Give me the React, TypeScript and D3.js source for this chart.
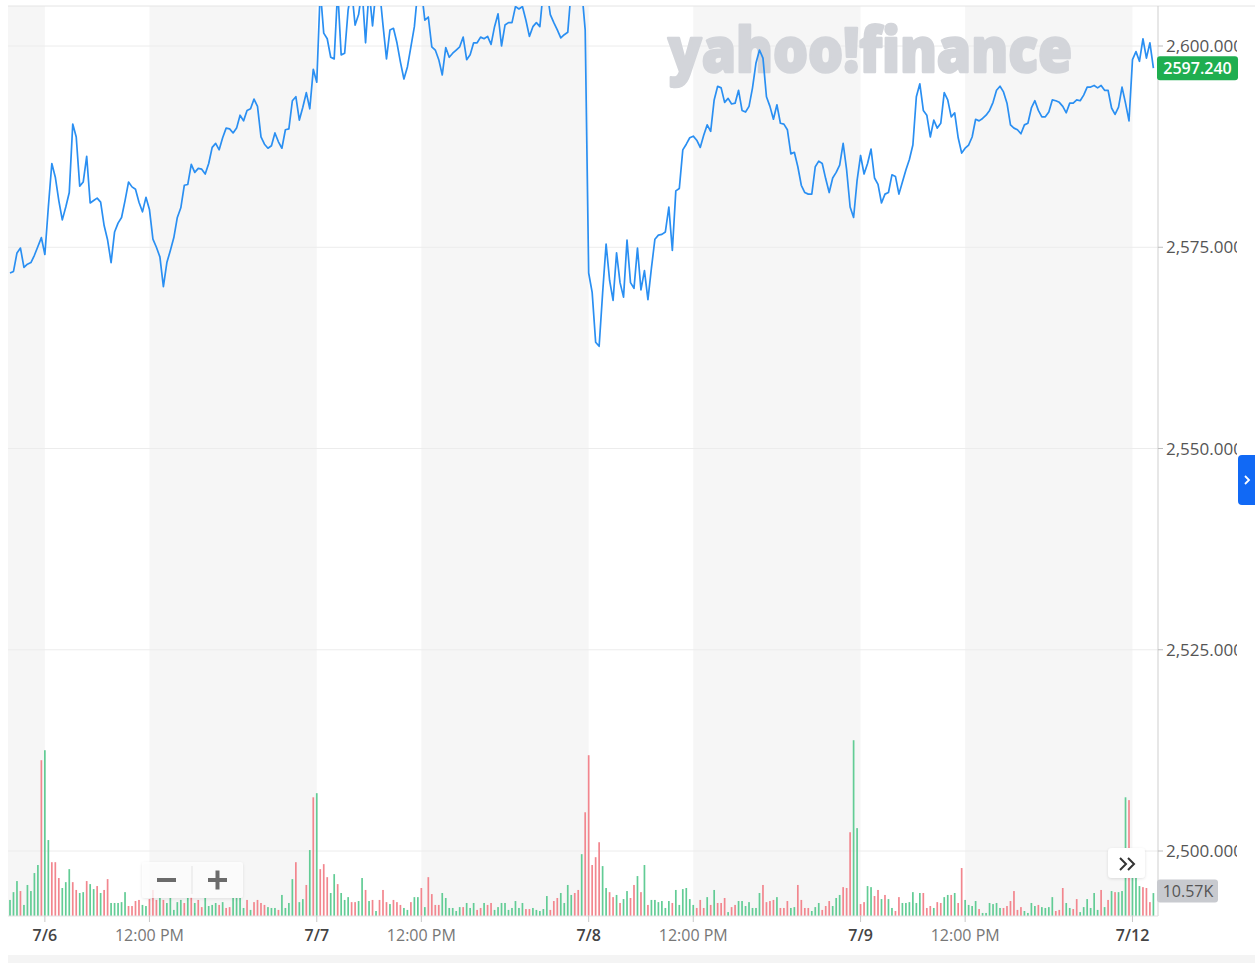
import React, { useEffect, useRef } from 'react';
import * as d3 from 'd3';

// 5-minute closes, 7/2 afternoon through 7/12 open
const PRICE: number[] = [
  2571.8, 2572.0, 2574.3, 2574.9, 2572.5, 2572.9, 2573.1, 2574.0, 2575.1, 2576.2,
  2574.1, 2580.0, 2585.4, 2583.7, 2580.8, 2578.4, 2580.0, 2581.8, 2590.3, 2588.7,
  2582.6, 2583.1, 2586.3, 2580.5, 2580.8, 2581.1, 2580.6, 2577.7, 2575.9, 2573.1,
  2576.9, 2578.0, 2578.7, 2580.8, 2583.1, 2582.5, 2582.2, 2580.6, 2579.4, 2581.2,
  2579.7, 2576.0, 2575.0, 2573.8, 2570.1, 2573.1, 2574.6, 2576.2, 2578.7, 2579.9,
  2582.7, 2582.8, 2585.3, 2584.3, 2584.8, 2584.7, 2584.1, 2585.4, 2587.4, 2587.9,
  2587.1, 2588.6, 2589.8, 2589.7, 2589.2, 2589.8, 2591.4, 2590.7, 2592.0, 2592.2,
  2593.4, 2592.5, 2588.7, 2587.8, 2587.3, 2587.6, 2589.2, 2588.1, 2587.3, 2589.6,
  2589.7, 2593.2, 2593.7, 2590.8, 2592.4, 2594.2, 2592.2, 2597.1, 2595.5, 2607.0,
  2601.6, 2600.9, 2598.6, 2598.4, 2607.0, 2598.9, 2599.1, 2604.5, 2607.0, 2602.6,
  2603.9, 2607.0, 2600.4, 2607.0, 2602.5, 2607.0, 2607.0, 2602.6, 2598.4, 2602.0,
  2602.2, 2600.4, 2598.0, 2595.9, 2597.4, 2599.9, 2602.4, 2607.0, 2607.0, 2603.2,
  2603.6, 2599.9, 2599.5, 2598.3, 2596.4, 2599.8, 2598.6, 2599.1, 2599.5, 2599.9,
  2601.1, 2598.3, 2598.9, 2600.4, 2600.4, 2601.1, 2600.9, 2601.2, 2600.2, 2602.4,
  2604.0, 2600.0, 2602.6, 2602.9, 2602.9, 2604.9, 2604.6, 2604.9, 2603.2, 2601.2,
  2602.4, 2602.9, 2602.4, 2607.0, 2607.0, 2603.9, 2602.9, 2602.0, 2601.0, 2601.4,
  2601.7, 2607.0, 2607.0, 2607.0, 2607.0, 2602.0, 2571.8, 2569.4, 2563.2, 2562.7,
  2569.3, 2575.4, 2570.9, 2568.4, 2574.3, 2570.6, 2568.8, 2575.9, 2570.6, 2569.9,
  2574.9, 2569.7, 2572.1, 2568.5, 2572.4, 2576.0, 2576.5, 2576.6, 2576.9, 2580.0,
  2574.6, 2582.0, 2582.3, 2587.1, 2587.8, 2588.6, 2588.8, 2588.3, 2587.4, 2588.9,
  2590.2, 2589.4, 2593.3, 2595.0, 2594.8, 2593.0, 2593.5, 2592.8, 2592.9, 2594.5,
  2592.0, 2591.8, 2592.5, 2594.8, 2597.9, 2599.5, 2598.5, 2593.7, 2592.5, 2590.9,
  2592.7, 2590.4, 2590.3, 2589.6, 2586.6, 2586.8, 2585.0, 2582.7, 2581.8, 2581.6,
  2581.6, 2585.0, 2585.7, 2585.4, 2583.5, 2581.8, 2583.6, 2584.3, 2585.2, 2587.9,
  2584.6, 2580.0, 2578.7, 2583.3, 2586.4, 2584.1, 2585.4, 2587.2, 2583.6, 2582.8,
  2580.5, 2581.6, 2581.8, 2584.0, 2583.8, 2581.6, 2583.1, 2584.6, 2585.9, 2587.7,
  2593.7, 2595.3, 2592.0, 2591.4, 2588.7, 2590.8, 2589.8, 2590.4, 2594.2, 2593.3,
  2591.2, 2591.7, 2588.6, 2586.7, 2587.3, 2587.7, 2588.7, 2590.9, 2590.7, 2591.0,
  2591.4, 2592.0, 2593.0, 2594.5, 2595.0, 2594.3, 2592.9, 2590.2, 2589.8, 2589.6,
  2589.1, 2590.2, 2590.4, 2592.3, 2593.2, 2592.0, 2591.2, 2591.2, 2591.8, 2593.3,
  2593.2, 2593.0, 2592.5, 2591.7, 2592.9, 2592.9, 2593.3, 2593.2, 2593.9, 2594.9,
  2594.9, 2595.1, 2594.8, 2595.1, 2594.5, 2594.5, 2592.3, 2591.5, 2592.4, 2594.9,
  2592.9, 2590.7, 2598.3, 2599.3, 2598.1, 2600.9, 2598.5, 2600.4, 2597.24,
];

// volume per bar, thousands
const VOLUME: number[] = [
  7.4, 11.0, 16.1, 11.5, 5.1, 14.3, 11.5, 19.8, 23.5, 71.8,
  76.4, 35.0, 24.8, 24.8, 17.5, 12.9, 15.6, 21.6, 15.6, 12.0,
  10.6, 11.0, 16.1, 14.7, 12.4, 13.8, 10.6, 12.0, 17.0, 6.0,
  6.0, 6.0, 6.4, 11.0, 4.6, 4.6, 6.9, 7.4, 5.1, 4.6,
  7.8, 12.0, 7.4, 8.3, 7.4, 6.0, 8.3, 2.8, 6.4, 7.4,
  6.0, 8.3, 8.7, 6.0, 7.4, 4.1, 8.3, 4.6, 5.1, 6.0,
  5.1, 6.4, 3.7, 4.1, 8.3, 8.3, 8.3, 3.7, 7.4, 2.8,
  6.4, 7.4, 6.0, 5.1, 4.1, 3.7, 3.7, 2.8, 9.7, 3.7,
  6.0, 17.0, 24.8, 6.4, 7.8, 14.3, 30.4, 54.7, 56.6, 21.6,
  23.9, 17.9, 10.6, 19.3, 14.7, 10.6, 7.4, 8.7, 6.4, 6.4,
  6.9, 17.5, 12.0, 6.9, 7.4, 2.3, 7.4, 12.0, 6.4, 5.5,
  7.4, 6.4, 5.1, 3.7, 2.8, 6.4, 8.7, 8.7, 12.9, 4.1,
  17.9, 10.1, 5.1, 5.1, 10.6, 8.3, 3.7, 3.7, 2.3, 4.1,
  4.1, 6.0, 3.7, 6.0, 2.8, 3.7, 6.0, 5.1, 6.0, 2.8,
  4.1, 6.0, 6.0, 2.8, 3.7, 6.9, 3.7, 6.0, 3.2, 3.2,
  3.7, 2.8, 2.3, 3.2, 9.2, 2.8, 6.9, 8.3, 10.6, 6.0,
  14.3, 9.7, 10.6, 12.0, 28.5, 47.8, 74.1, 23.5, 27.1, 34.0,
  23.0, 12.9, 11.0, 8.7, 9.7, 6.0, 7.8, 11.5, 8.3, 14.3,
  18.4, 11.0, 23.5, 5.1, 7.4, 7.4, 6.4, 6.9, 3.7, 6.9,
  6.0, 12.0, 5.1, 12.4, 12.9, 7.8, 5.1, 3.7, 7.4, 3.7,
  8.7, 5.1, 12.0, 6.0, 6.0, 8.3, 1.8, 4.1, 5.1, 6.9,
  6.9, 4.6, 6.4, 3.7, 3.7, 10.6, 14.3, 6.4, 6.9, 7.4,
  8.7, 3.7, 3.7, 6.9, 3.7, 4.1, 14.3, 7.4, 3.7, 3.7,
  2.3, 4.1, 6.0, 2.8, 4.6, 6.9, 4.6, 8.3, 9.7, 13.3,
  12.9, 38.6, 81.0, 40.5, 5.5, 6.4, 13.8, 13.3, 9.2, 12.0,
  7.8, 9.7, 7.8, 3.7, 2.3, 8.7, 6.0, 6.0, 6.4, 11.0,
  6.0, 10.6, 10.6, 3.7, 4.6, 3.7, 6.4, 6.0, 8.7, 9.7,
  9.7, 10.6, 6.0, 22.1, 7.4, 5.1, 4.6, 6.9, 3.2, 1.4,
  1.4, 6.0, 5.5, 6.0, 3.7, 3.7, 4.6, 6.9, 11.5, 2.8,
  4.1, 2.3, 1.4, 6.0, 4.6, 5.1, 4.1, 3.7, 4.1, 8.7,
  2.3, 2.8, 12.9, 6.0, 3.7, 3.2, 7.8, 1.8, 4.1, 7.8,
  3.7, 10.6, 2.8, 12.0, 4.1, 7.4, 11.5, 11.0, 11.0, 11.5,
  54.7, 53.4, 28.5, 20.7, 13.8, 13.3, 12.9, 6.4, 10.57,
];

// u = up bar (green), d = down bar (red)
const VOL_DIR = (
  'uuuduuuuud uuddduuudd uuduududdu uuuudddduu ddduduuuuu dududduuuu dudduuuudu dddduuuduu ' +
  'uuduududud dduuduuudd uudududddu ddduuduudu dddduuuuuu duuudduddu uuuuuuuudd uuuuuddduu ' +
  'uudduddddd uudduduudd ududuuuuuu duuuuuuddd ududdduddu uuuuuudddd uddduudddd uuuddduuud ' +
  'dduudduudd uduudduuuu uudddudduu dudduuuudu uuuuuddddd duuuuduuuu ddduudduuuu uudududuuu duuudddud'
).replace(/ /g, '');

const DAY_TICKS = [
  { i: 10, label: '7/6' },
  { i: 88, label: '7/7' },
  { i: 166, label: '7/8' },
  { i: 244, label: '7/9' },
  { i: 322, label: '7/12' },
];
const NOON_TICKS = [40, 118, 196, 274];
const NOON_LABEL = '12:00 PM';
const Y_TICKS = [2600, 2575, 2550, 2525, 2500];
const LAST_PRICE = 2597.24;
const LAST_VOLUME = 10.57;

const W = 1255;
const H = 963;
const LEFT = 8;
const RIGHT = 1158;
const TOP = 6;
const BOTTOM = 916;
const FONT = '"Open Sans", "Noto Sans", sans-serif';

const App: React.FC = () => {
  const svgRef = useRef<SVGSVGElement>(null);

  useEffect(() => {
    if (!svgRef.current) return;
    const svg = d3.select(svgRef.current);
    svg.selectAll('*').remove();

    const x = d3.scaleLinear().domain([0, PRICE.length - 1]).range([10, 1153.4]);
    const y = d3.scaleLinear().domain([2500, 2600]).range([851, 46]);
    const yVol = d3.scaleLinear().domain([0, 100]).range([BOTTOM, BOTTOM - 217]);

    const defs = svg.append('defs');
    defs.append('clipPath').attr('id', 'plot-clip')
      .append('rect').attr('x', LEFT).attr('y', TOP).attr('width', RIGHT - LEFT).attr('height', BOTTOM - TOP);
    defs.append('clipPath').attr('id', 'ylab-clip')
      .append('rect').attr('x', RIGHT).attr('y', 0).attr('width', 1237 - RIGHT).attr('height', H);
    const shadow = defs.append('filter').attr('id', 'btn-shadow')
      .attr('x', '-30%').attr('y', '-30%').attr('width', '160%').attr('height', '160%');
    shadow.append('feDropShadow').attr('dx', 0).attr('dy', 1).attr('stdDeviation', 1.5)
      .attr('flood-color', '#000').attr('flood-opacity', 0.12);

    // shaded off-morning bands: plot start -> 7/6, then each noon -> next day
    const bands: [number, number][] = [[LEFT, x(DAY_TICKS[0].i)]];
    NOON_TICKS.forEach((n, k) => bands.push([x(n), x(DAY_TICKS[k + 1].i)]));
    svg.append('g').selectAll('rect').data(bands).enter().append('rect')
      .attr('x', d => d[0]).attr('y', TOP)
      .attr('width', d => d[1] - d[0]).attr('height', BOTTOM - TOP)
      .attr('fill', '#f6f6f6');

    // bottom strip
    svg.append('rect').attr('x', LEFT).attr('y', 955).attr('width', W - LEFT).attr('height', H - 955)
      .attr('fill', '#f4f4f4');

    // grid
    svg.append('g').selectAll('line').data(Y_TICKS).enter().append('line')
      .attr('x1', LEFT).attr('x2', RIGHT)
      .attr('y1', d => y(d)).attr('y2', d => y(d))
      .attr('stroke', '#ececec').attr('stroke-width', 1);
    svg.append('line').attr('x1', LEFT).attr('x2', W).attr('y1', TOP).attr('y2', TOP)
      .attr('stroke', '#e4e4e4');

    // watermark
    svg.append('text').text('yahoo!finance')
      .attr('x', 668).attr('y', 72)
      .attr('textLength', 404).attr('lengthAdjust', 'spacingAndGlyphs')
      .attr('font-family', FONT).attr('font-size', 62).attr('font-weight', 800)
      .attr('fill', '#d3d5da').attr('stroke', '#d3d5da').attr('stroke-width', 2.5)
      .attr('stroke-linejoin', 'round');

    // volume
    const plot = svg.append('g').attr('clip-path', 'url(#plot-clip)');
    plot.append('g').selectAll('rect').data(VOLUME).enter().append('rect')
      .attr('x', (d, i) => x(i) - 0.85)
      .attr('width', 1.7)
      .attr('y', d => yVol(d))
      .attr('height', d => BOTTOM - yVol(d))
      .attr('fill', (d, i) => (VOL_DIR[i] === 'u' ? '#62cc95' : '#f2868e'));

    // price line
    const line = d3.line<number>().x((d, i) => x(i)).y(d => y(d));
    plot.append('path').datum(PRICE)
      .attr('d', line)
      .attr('fill', 'none')
      .attr('stroke', '#2a8ff2')
      .attr('stroke-width', 1.7)
      .attr('stroke-linejoin', 'round');

    // axes lines
    svg.append('line').attr('x1', RIGHT).attr('x2', RIGHT).attr('y1', TOP).attr('y2', BOTTOM)
      .attr('stroke', '#cfcfcf');
    svg.append('line').attr('x1', LEFT).attr('x2', RIGHT).attr('y1', BOTTOM).attr('y2', BOTTOM)
      .attr('stroke', '#e2e2e2');

    // y axis labels
    const yAxis = svg.append('g').attr('clip-path', 'url(#ylab-clip)');
    Y_TICKS.forEach(t => {
      yAxis.append('line').attr('x1', RIGHT).attr('x2', RIGHT + 5).attr('y1', y(t)).attr('y2', y(t))
        .attr('stroke', '#bdbdbd');
      yAxis.append('text').text(d3.format(',.3f')(t))
        .attr('x', RIGHT + 8).attr('y', y(t)).attr('dy', '0.36em')
        .attr('font-family', FONT).attr('font-size', 17).attr('fill', '#555');
    });

    // x axis ticks and labels
    const xAxis = svg.append('g');
    const allTicks = [
      ...DAY_TICKS.map(d => ({ i: d.i, label: d.label, day: true })),
      ...NOON_TICKS.map(n => ({ i: n, label: NOON_LABEL, day: false })),
    ];
    allTicks.forEach(t => {
      xAxis.append('line').attr('x1', x(t.i)).attr('x2', x(t.i)).attr('y1', BOTTOM).attr('y2', BOTTOM + 6)
        .attr('stroke', '#c8c8c8');
      xAxis.append('text').text(t.label)
        .attr('x', x(t.i)).attr('y', 941).attr('text-anchor', 'middle')
        .attr('font-family', FONT).attr('font-size', 16)
        .attr('font-weight', t.day ? 600 : 400)
        .attr('fill', t.day ? '#444' : '#777');
    });

    // last price badge
    const py = y(LAST_PRICE);
    svg.append('rect').attr('x', 1157).attr('y', py - 12).attr('width', 81).attr('height', 24).attr('rx', 3)
      .attr('fill', '#1fae50');
    svg.append('text').text(LAST_PRICE.toFixed(3))
      .attr('x', 1197.5).attr('y', py).attr('dy', '0.36em').attr('text-anchor', 'middle')
      .attr('font-family', FONT).attr('font-size', 16).attr('font-weight', 600).attr('fill', '#fff');

    // last volume badge
    const vy = yVol(LAST_VOLUME) - 2;
    svg.append('rect').attr('x', 1157).attr('y', vy - 11.5).attr('width', 61).attr('height', 23).attr('rx', 3)
      .attr('fill', '#c8cacf');
    svg.append('text').text(`${LAST_VOLUME}K`)
      .attr('x', 1188).attr('y', vy).attr('dy', '0.36em').attr('text-anchor', 'middle')
      .attr('font-family', FONT).attr('font-size', 16).attr('fill', '#555');

    // zoom buttons
    svg.append('rect').attr('x', 142).attr('y', 862).attr('width', 101).attr('height', 36).attr('rx', 3)
      .attr('fill', 'rgba(255,255,255,0.78)').attr('filter', 'url(#btn-shadow)');
    svg.append('line').attr('x1', 192).attr('x2', 192).attr('y1', 866).attr('y2', 894)
      .attr('stroke', '#e3e3e3');
    svg.append('line').attr('x1', 157).attr('x2', 176).attr('y1', 880).attr('y2', 880)
      .attr('stroke', '#6b6b6b').attr('stroke-width', 4);
    svg.append('line').attr('x1', 208).attr('x2', 227).attr('y1', 880).attr('y2', 880)
      .attr('stroke', '#6b6b6b').attr('stroke-width', 4);
    svg.append('line').attr('x1', 217.5).attr('x2', 217.5).attr('y1', 870.5).attr('y2', 889.5)
      .attr('stroke', '#6b6b6b').attr('stroke-width', 4);

    // ">>" button
    svg.append('rect').attr('x', 1108).attr('y', 848).attr('width', 37).attr('height', 30).attr('rx', 4)
      .attr('fill', '#fff').attr('filter', 'url(#btn-shadow)');
    svg.append('path').attr('d', 'M1120,858L1126,864L1120,870M1128,858L1134,864L1128,870')
      .attr('fill', 'none').attr('stroke', '#333').attr('stroke-width', 2);

    // right side tab
    svg.append('rect').attr('x', 1238).attr('y', 455).attr('width', 24).attr('height', 50).attr('rx', 4)
      .attr('fill', '#1169f5');
    svg.append('path').attr('d', 'M1245,476L1249,480L1245,484')
      .attr('fill', 'none').attr('stroke', '#fff').attr('stroke-width', 1.8);
  }, []);

  return (
    <svg
      ref={svgRef}
      width={W}
      height={H}
      style={{ position: 'absolute', left: 0, top: 0, background: '#fff' }}
    />
  );
};

export default App;
